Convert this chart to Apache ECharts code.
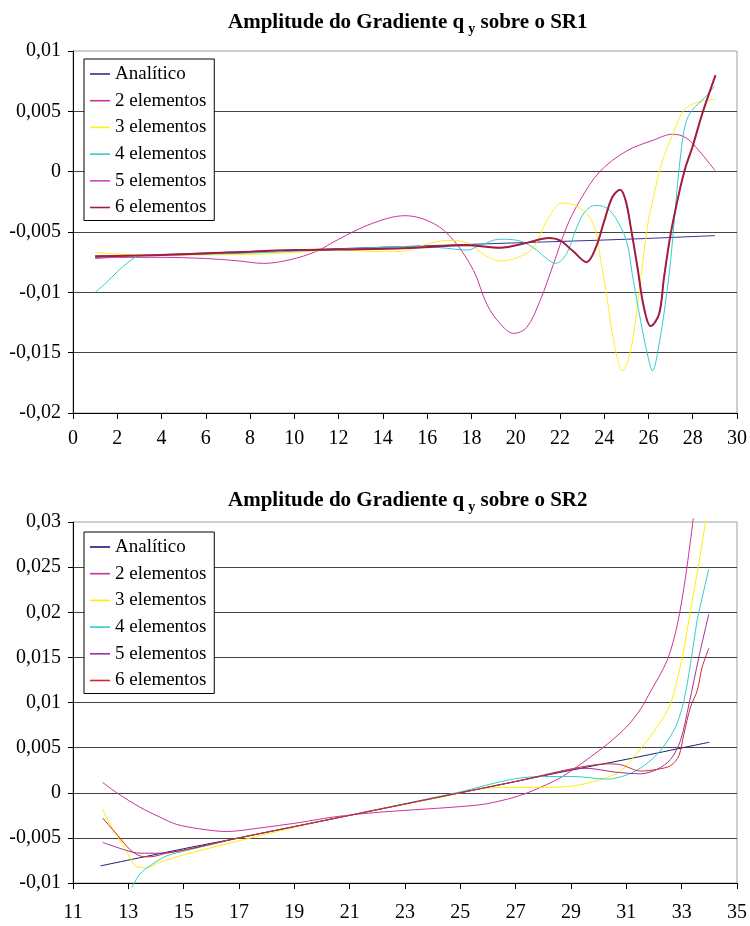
<!DOCTYPE html>
<html>
<head>
<meta charset="utf-8">
<script src="https://cdn.jsdelivr.net/npm/echarts@6/dist/echarts.min.js"></script>
<style>
  html, body { margin: 0; padding: 0; background: #fff; }
  .chart { width: 750px; height: 463px; }
</style>
</head>
<body>
<div id="sr1" class="chart"></div>
<div id="sr2" class="chart"></div>
<script>
// nomes das series (mesmos nos dois graficos)
const seriesNames = ["Analítico", "2 elementos", "3 elementos", "4 elementos", "5 elementos", "6 elementos"];

// ---- SR1 ----
const xTicks1 = [0, 2, 4, 6, 8, 10, 12, 14, 16, 18, 20, 22, 24, 26, 28, 30];
const yTicks1 = [-0.02, -0.015, -0.01, -0.005, 0, 0.005, 0.01];

const analitico1 = [[1, -0.0071], [5, -0.0068], [10, -0.0065], [15, -0.0062], [20, -0.0059], [25, -0.0056], [29, -0.0053]];
const el2_1 = [[1, -0.0072], [2, -0.0071], [4, -0.0071], [6, -0.0072], [7.5, -0.0074], [8.6, -0.0076], [9.8, -0.0073],
  [11, -0.0066], [12, -0.0056], [13.5, -0.0043], [15, -0.00365], [16.3, -0.0043], [17.2, -0.0057], [18.1, -0.0082],
  [18.7, -0.011], [19.3, -0.0126], [19.9, -0.0134], [20.5, -0.0129], [21.1, -0.0107], [21.7, -0.0077], [22.3, -0.0046],
  [22.9, -0.0024], [23.8, 0.0], [25, 0.0017], [26.2, 0.0026], [27.1, 0.0031], [27.7, 0.0028], [28.3, 0.0017], [29, 0.0001]];
const el3_1 = [[1, -0.0067], [3, -0.0069], [6, -0.0069], [9, -0.0068], [12, -0.0065], [13.6, -0.0066], [14.8, -0.0066],
  [16, -0.006], [16.9, -0.0057], [17.8, -0.0059], [18.6, -0.0069], [19.3, -0.0074], [20.1, -0.0071], [20.8, -0.0063],
  [21.4, -0.0041], [22.1, -0.0026], [22.8, -0.0029], [23.5, -0.0043], [23.85, -0.0074], [24.15, -0.0107], [24.4, -0.0137],
  [24.82, -0.0165], [25.2, -0.0148], [25.57, -0.0101], [25.95, -0.0046], [26.25, -0.0019], [26.63, 0.0009],
  [27.15, 0.0033], [27.6, 0.0051], [28.13, 0.0057], [29, 0.006]];
const el4_1 = [[1, -0.01], [1.5, -0.0092], [2, -0.0083], [2.5, -0.0075], [3, -0.007], [4, -0.0069], [7, -0.0068],
  [10, -0.0066], [13.6, -0.0063], [15.1, -0.0062], [16.6, -0.0063], [17.8, -0.0065], [18.4, -0.0061], [19.3, -0.0056],
  [20.1, -0.0057], [20.8, -0.0063], [21.4, -0.0072], [21.8, -0.0076], [22.3, -0.0068], [22.7, -0.0049], [23.1, -0.0034],
  [23.6, -0.0028], [24.1, -0.003], [24.5, -0.0038], [25, -0.0057], [25.27, -0.0085], [25.65, -0.0124], [25.95, -0.0151],
  [26.18, -0.0165], [26.48, -0.0143], [26.78, -0.0107], [27, -0.0074], [27.23, -0.0027], [27.46, 0.0015],
  [27.68, 0.004], [27.98, 0.0051], [28.58, 0.0062], [29, 0.0071]];
const el6_1 = [[1, -0.007], [4, -0.0069], [7, -0.0067], [10, -0.0065], [13.6, -0.0064], [15.5, -0.0063], [17.8, -0.0061],
  [19.3, -0.0063], [20.5, -0.0059], [21.5, -0.0055], [22, -0.0057], [22.6, -0.0066], [23.2, -0.0075], [23.62, -0.0063],
  [24, -0.0041], [24.37, -0.0021], [24.72, -0.0015], [24.97, -0.0024], [25.2, -0.0046], [25.5, -0.0079], [25.8, -0.0113],
  [26.1, -0.0128], [26.48, -0.0118], [26.7, -0.0088], [27, -0.0052], [27.38, -0.0018], [27.68, 0.0004], [27.98, 0.002],
  [28.43, 0.0048], [29.03, 0.008]];
const el5_1 = el6_1; // 5 e 6 elementos praticamente coincidem no SR1

// ---- SR2 ----
const xTicks2 = [11, 13, 15, 17, 19, 21, 23, 25, 27, 29, 31, 33, 35];
const yTicks2 = [-0.01, -0.005, 0, 0.005, 0.01, 0.015, 0.02, 0.025, 0.03];

const analitico2 = [[12, -0.0081], [15, -0.0062], [17, -0.005], [19, -0.00375], [21, -0.0025], [23, -0.00125], [25, 0],
  [27, 0.00125], [29, 0.0025], [31, 0.0037], [34, 0.0056]];
const el2_2 = [[12.07, 0.00115], [12.58, 0], [13.42, -0.0016], [14.14, -0.0027], [14.74, -0.0035], [15.58, -0.004],
  [16.55, -0.0043], [17.75, -0.0039], [19.19, -0.0033], [20.39, -0.0027], [21.9, -0.0022], [24.9, -0.00156],
  [25.87, -0.00126], [26.71, -0.0007], [27.3, -0.00015], [27.9, 0.0006], [28.64, 0.0017], [29.36, 0.0032],
  [30.32, 0.0054], [31.04, 0.0074], [31.52, 0.0093], [31.8, 0.0108], [32.48, 0.0147], [32.84, 0.0186],
  [33.14, 0.0239], [33.42, 0.0304]];
const el3_2 = [[12.07, -0.0018], [12.34, -0.0035], [12.7, -0.0053], [13.06, -0.0072], [13.3, -0.0082], [13.66, -0.0083],
  [14.14, -0.0077], [15.1, -0.0068], [17.03, -0.0053], [19.19, -0.0037], [21.9, -0.0019], [24.3, -0.0005],
  [25.87, 0.0005], [26.95, 0.0006], [28.4, 0.0006], [29.36, 0.0009], [30.2, 0.0016], [30.8, 0.0024], [31.52, 0.0049],
  [32.12, 0.0073], [32.6, 0.0099], [33.02, 0.015], [33.32, 0.0202], [33.62, 0.0254], [33.88, 0.0303]];
const el4_2 = [[13.12, -0.0105], [13.42, -0.009], [13.78, -0.0081], [14.38, -0.007], [15.1, -0.0064], [17, -0.005],
  [19, -0.00375], [21, -0.0025], [23, -0.0012], [25, 0.0001], [26.71, 0.0014], [27.9, 0.0018], [29.1, 0.0018],
  [30.32, 0.0015], [31.04, 0.002], [31.64, 0.003], [32.24, 0.0047], [32.78, 0.0073], [33.08, 0.0102], [33.32, 0.0143],
  [33.56, 0.0191], [33.8, 0.0224], [33.98, 0.0248]];
const el5_2 = [[12.07, -0.0055], [12.94, -0.0064], [13.42, -0.0067], [14.14, -0.0067], [15.1, -0.0063], [17, -0.005],
  [19, -0.00375], [21, -0.0025], [23, -0.00125], [25, 0], [27, 0.00125], [29.1, 0.0026], [29.6, 0.0027],
  [30.56, 0.0023], [31.52, 0.0021], [32.12, 0.0026], [32.6, 0.0037], [32.96, 0.0058], [33.27, 0.0099],
  [33.62, 0.015], [33.98, 0.0198]];
const el6_2 = [[12.07, -0.0028], [12.58, -0.0046], [13.06, -0.0063], [13.42, -0.007], [13.78, -0.0071], [14.38, -0.0067],
  [15.1, -0.0063], [17, -0.005], [19, -0.00375], [21, -0.0025], [23, -0.00125], [25, 0], [27, 0.00125], [29.1, 0.0027],
  [30.32, 0.0032], [30.8, 0.0031], [31.52, 0.0024], [32.12, 0.0026], [32.6, 0.003], [32.9, 0.0041], [33.08, 0.0065],
  [33.32, 0.0095], [33.56, 0.0113], [33.74, 0.0139], [33.98, 0.016]];

const FONT = "Liberation Serif";

function fmtNum(v) {
  return String(+v.toFixed(4)).replace(".", ",");
}

function buildOption(cfg) {
  return {
    animation: false,
    title: {
      text: "{a|Amplitude do Gradiente q}{s|y}{a| sobre o " + cfg.sr + "}",
      left: 223,
      top: cfg.titleTop,
      textStyle: {
        rich: {
          a: { fontFamily: FONT, fontSize: 21, fontWeight: "bold", color: "#000" },
          s: { fontFamily: FONT, fontSize: 14, fontWeight: "bold", color: "#000", padding: [12, 0, 0, 4] }
        }
      }
    },
    legend: {
      orient: "vertical",
      left: 84,
      top: cfg.legendTop,
      padding: [5, 8, 3, 6],
      itemGap: 6.7,
      itemWidth: 20,
      itemHeight: 1.6,
      icon: "rect",
      borderColor: "#000",
      borderWidth: 1,
      backgroundColor: "#fff",
      selectedMode: false,
      textStyle: { fontFamily: FONT, fontSize: 19, color: "#000", lineHeight: 20 },
      data: seriesNames
    },
    grid: {
      left: 73, right: 12, top: cfg.gridTop, bottom: cfg.gridBottom,
      show: true, borderColor: "#a0a0a0", borderWidth: 1
    },
    xAxis: {
      type: "value",
      min: cfg.xTicks[0],
      max: cfg.xTicks[cfg.xTicks.length - 1],
      interval: cfg.xInterval,
      axisLine: { onZero: false, lineStyle: { color: "#000", width: 1 } },
      axisTick: { show: true, length: 6, lineStyle: { color: "#000" }, customValues: cfg.xCustom },
      axisLabel: {
        fontFamily: FONT, fontSize: 20, color: "#000", margin: cfg.xMargin,
        showMinLabel: true, showMaxLabel: true, customValues: cfg.xCustom
      },
      splitLine: { show: false }
    },
    yAxis: {
      type: "value",
      min: cfg.yTicks[0],
      max: cfg.yTicks[cfg.yTicks.length - 1],
      interval: 0.005,
      axisLine: { show: true, lineStyle: { color: "#000", width: 1 } },
      axisTick: { show: true, length: 5, lineStyle: { color: "#000" } },
      axisLabel: {
        fontFamily: FONT, fontSize: 20, color: "#000", margin: 12,
        showMinLabel: true, showMaxLabel: true, formatter: fmtNum
      },
      splitLine: { show: true, showMinLine: false, showMaxLine: false, lineStyle: { color: "#454545", width: 1 } }
    },
    series: cfg.data.map(function (d, i) {
      return {
        type: "line",
        name: seriesNames[i],
        data: d,
        symbol: "none",
        smooth: cfg.smooth,
        clip: false,
        silent: true,
        lineStyle: { color: cfg.colors[i], width: cfg.widths[i] },
        itemStyle: { color: cfg.colors[i] },
        emphasis: { disabled: true }
      };
    })
  };
}

const chart1 = echarts.init(document.getElementById("sr1"));
chart1.setOption(buildOption({
  sr: "SR1",
  titleTop: 5,
  legendTop: 59,
  gridTop: 51,
  gridBottom: 50,
  xTicks: xTicks1,
  xInterval: 2,
  xCustom: undefined,
  xMargin: 16,
  yTicks: yTicks1,
  smooth: 0.35,
  data: [analitico1, el2_1, el3_1, el4_1, el5_1, el6_1],
  colors: ["#333399", "#cc3399", "#ffee22", "#33cccc", "#cc44cc", "#a31d40"],
  widths: [1, 1, 1, 1, 1, 2]
}));

const chart2 = echarts.init(document.getElementById("sr2"));
chart2.setOption(buildOption({
  sr: "SR2",
  titleTop: 20,
  legendTop: 69,
  gridTop: 59,
  gridBottom: 43,
  xTicks: xTicks2,
  xInterval: undefined,
  xCustom: xTicks2,
  xMargin: 20,
  yTicks: yTicks2,
  smooth: 0.3,
  data: [analitico2, el2_2, el3_2, el4_2, el5_2, el6_2],
  colors: ["#1a1a80", "#cc3399", "#ffee00", "#33cccc", "#993399", "#cc2b2b"],
  widths: [1, 1, 1, 1, 1, 1]
}));
</script>
</body>
</html>
